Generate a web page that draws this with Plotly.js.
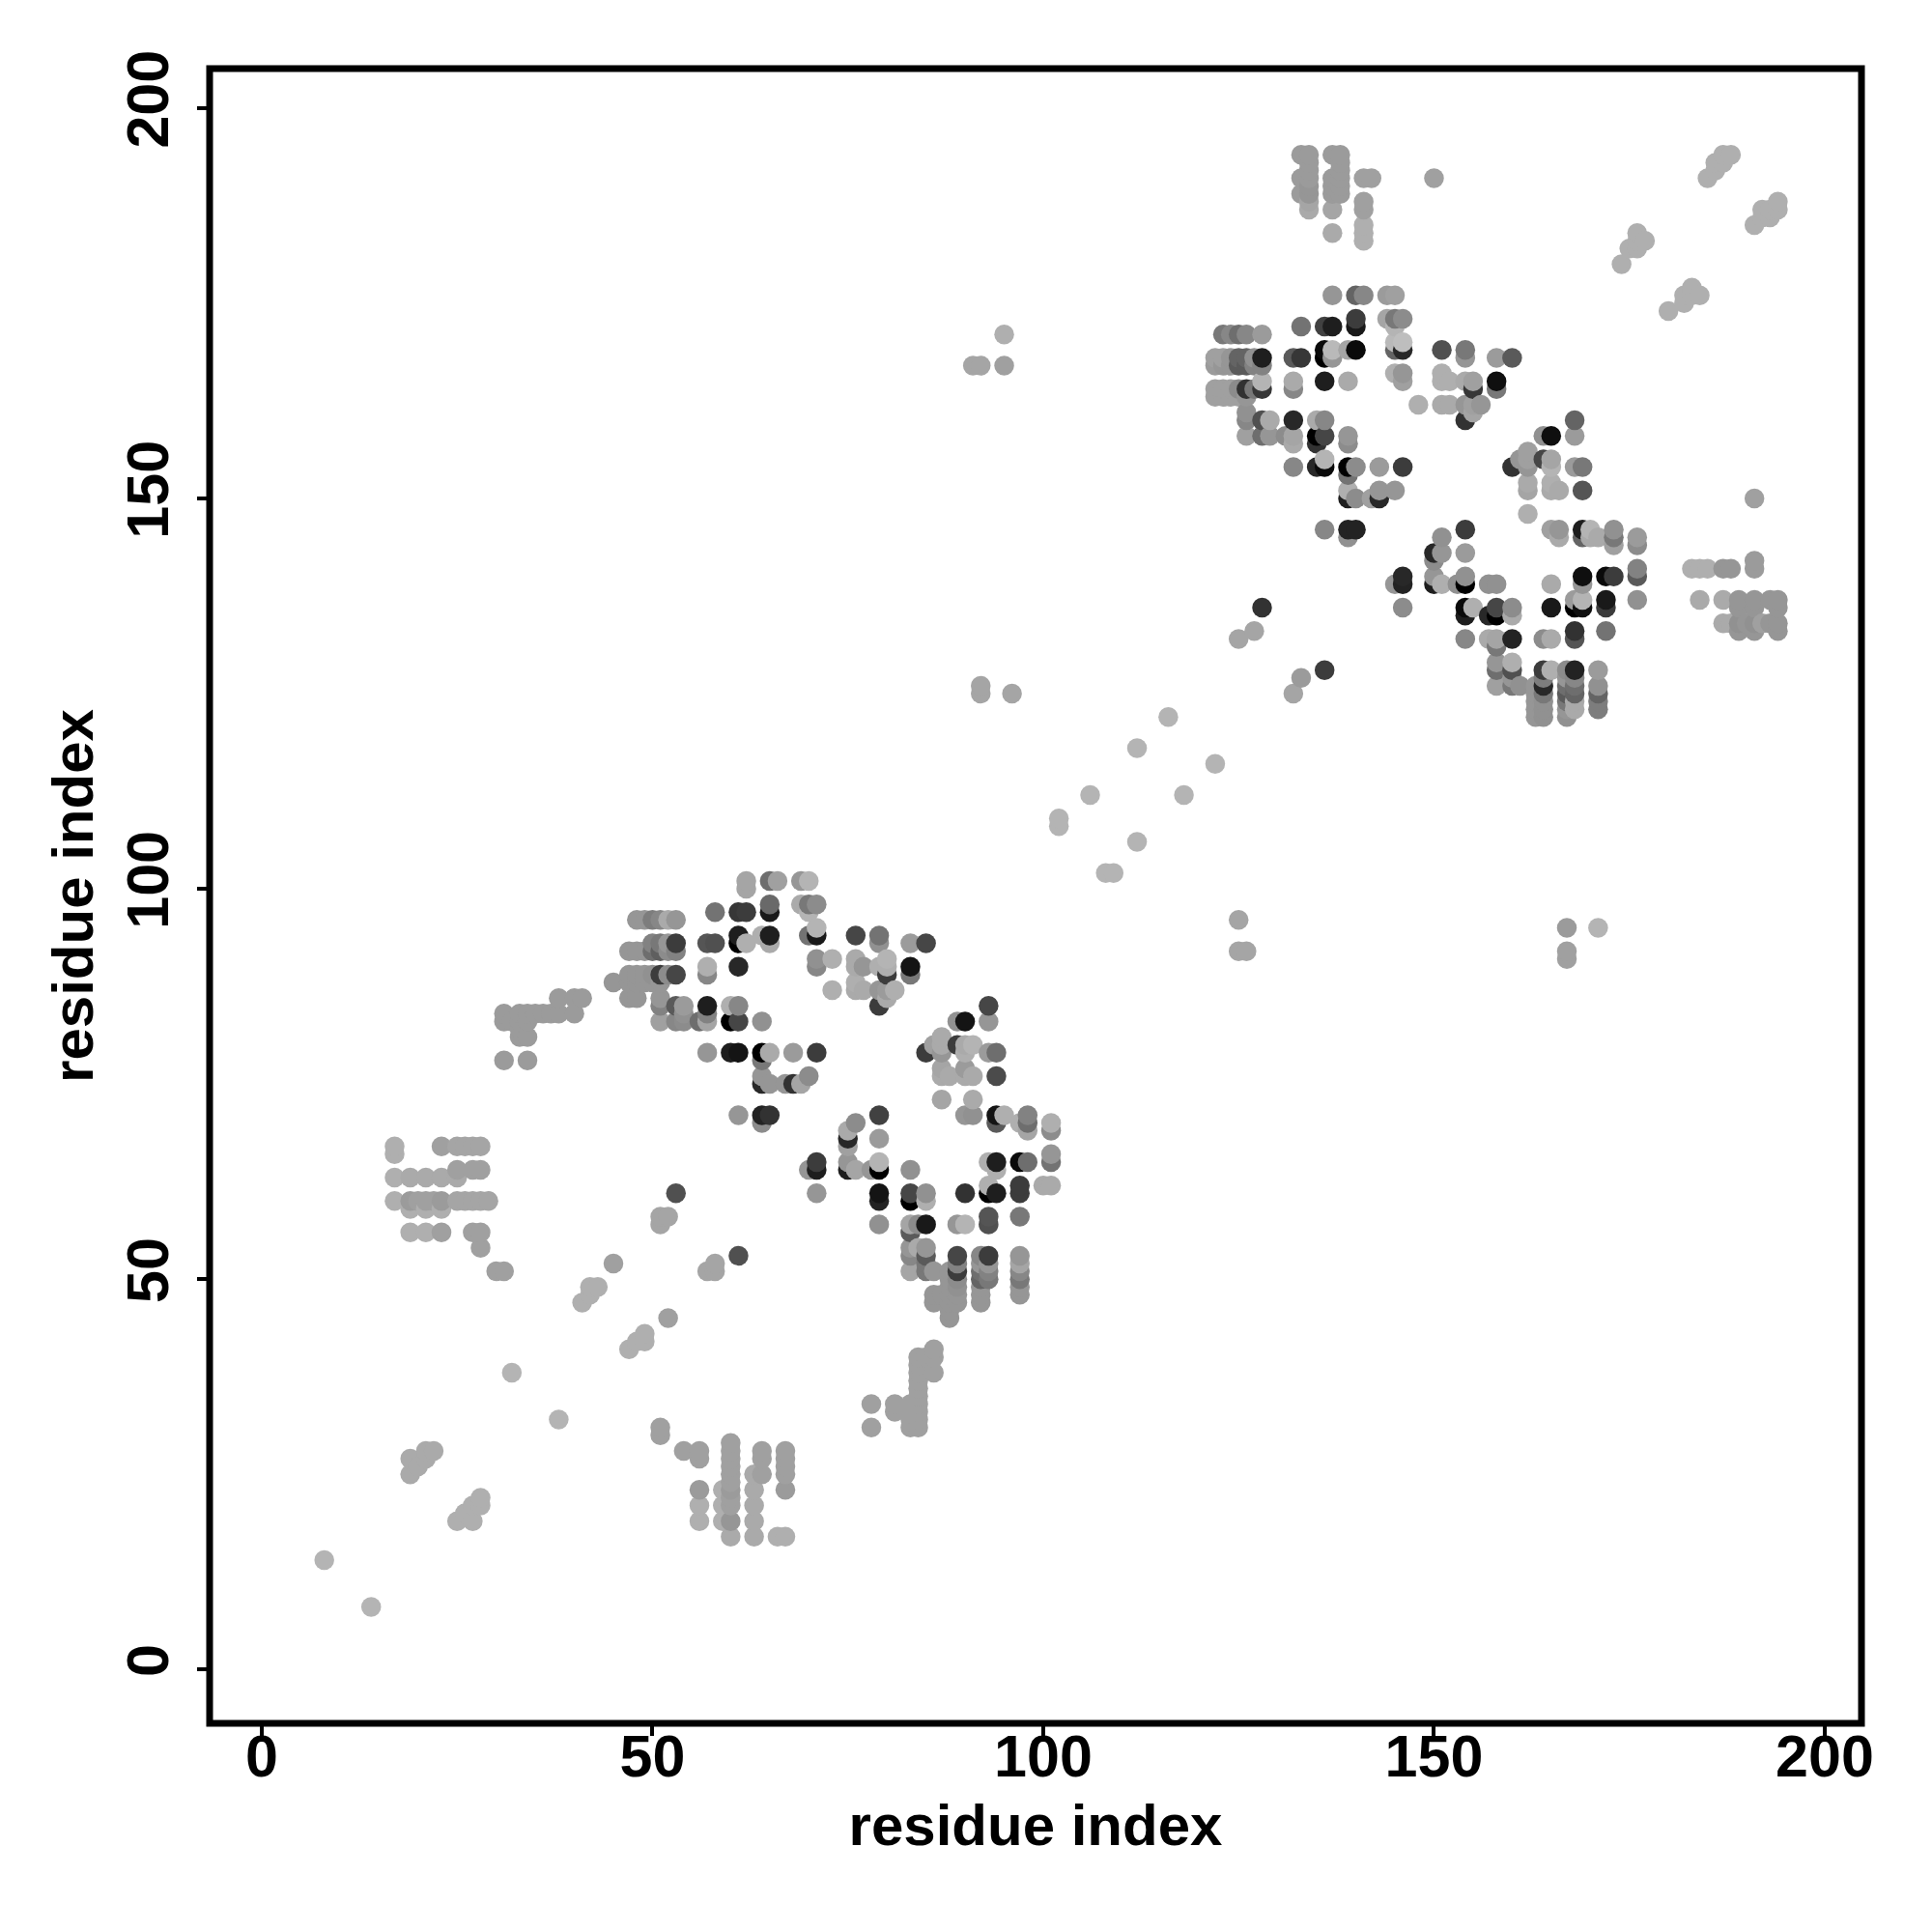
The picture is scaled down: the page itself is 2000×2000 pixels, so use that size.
<!DOCTYPE html>
<html><head><meta charset="utf-8">
<script src="https://cdn.plot.ly/plotly-3.0.1.min.js"></script>
<style>html,body{margin:0;padding:0;background:#fff}</style></head>
<body><div id="chart" style="width:2000px;height:2000px"></div>
<script>
// Each list holds [residue i, residue j, grey level]
const diagonalSparse = [[8,14,180],[14,8,180],[32,38,180],[38,32,180],[102,108,180],[102,109,180],[106,112,180],[108,102,180],[109,102,180],[112,106,180],[112,118,180],[116,122,180],[118,112,180],[122,116,180]];
const tailA = [[19,25,170],[20,26,170],[19,27,170],[21,27,170],[21,28,170],[22,28,170],[25,19,175],[27,19,175],[26,20,175],[27,21,175],[28,21,175],[28,22,175]];
const strandA = [[47,41,175],[48,42,175],[49,42,175],[49,43,175],[52,45,160],[41,47,175],[42,48,175],[42,49,175],[43,49,175],[45,52,160],[51,57,165],[51,58,165],[52,58,165],[53,61,80],[57,51,165],[58,51,165],[58,52,165],[61,53,80]];
const blockB = [[51,30,160],[51,31,160],[54,28,160],[56,27,160],[56,28,160],[56,19,175],[56,21,175],[56,23,155],[59,19,175],[59,21,175],[59,23,175],[60,17,170],[60,19,150],[60,21,160],[60,22,160],[60,23,155],[60,24,160],[60,25,160],[60,26,160],[60,27,160],[60,28,160],[60,29,160],[63,17,170],[63,19,170],[63,21,170],[63,23,170],[63,25,170],[64,25,160],[64,27,160],[64,28,160],[66,17,175],[67,17,175],[67,23,155],[67,25,160],[67,26,160],[67,27,160],[67,28,160]];
const blockC = [[78,31,160],[78,34,160],[81,33,160],[81,34,160],[83,31,160],[83,32,160],[83,33,160],[83,34,160],[84,31,160],[84,32,160],[84,33,160],[84,34,160],[84,35,160],[84,36,160],[84,37,160],[84,38,160],[84,39,160],[84,40,160],[85,40,160],[86,38,160],[86,40,160],[86,41,160]];
const blockD = [[17,60,175],[17,63,175],[17,66,175],[17,67,175],[19,59,175],[19,60,155],[19,63,170],[19,56,175],[20,60,160],[21,56,175],[21,59,175],[21,60,160],[21,63,170],[22,60,160],[23,56,160],[23,59,175],[23,60,155],[23,63,170],[23,67,160],[25,60,165],[25,63,170],[25,64,160],[25,67,165],[26,60,165],[26,67,165],[27,56,160],[27,60,165],[27,64,160],[27,67,165],[28,54,160],[28,56,160],[28,60,165],[28,64,160],[28,67,165],[29,60,165],[30,51,160],[31,51,160]];
const blockE = [[31,78,155],[34,78,155],[31,83,155],[31,84,155],[32,83,155],[33,81,155],[33,82,155],[33,83,155],[33,84,155],[34,81,155],[34,83,155],[34,84,155],[35,84,155],[36,84,155],[37,84,155],[38,84,155],[38,86,155],[40,84,155],[40,86,155],[41,86,155]];
const lowerUpper = [[45,88,150],[47,86,150],[47,88,150],[47,89,150],[47,92,150],[48,86,150],[48,88,150],[48,89,150],[48,92,150],[48,96,150],[49,88,150],[49,89,150],[49,92,150],[49,96,150],[50,88,150],[50,89,145],[50,92,110],[50,93,130],[50,96,125],[51,83,160],[51,85,130],[51,86,150],[51,88,150],[51,89,60],[51,92,95],[51,93,120],[51,96,135],[52,89,140],[52,92,140],[52,93,150],[52,96,170],[53,83,135],[53,85,90],[53,89,70],[53,92,130],[53,93,60],[53,96,150],[54,83,140],[54,84,145],[54,85,155],[56,83,110],[57,79,150],[57,83,165],[57,84,130],[57,85,30],[57,89,135],[57,90,175],[57,93,85],[58,93,80],[58,97,115],[60,79,30],[60,83,0],[60,85,175],[61,71,150],[61,79,20],[61,83,70],[61,85,135],[61,90,40],[61,93,0],[61,94,30],[61,97,55],[62,93,175],[62,97,60],[62,100,165],[62,101,165],[64,70,140],[64,71,35],[64,75,40],[64,76,150],[64,78,120],[64,79,0],[64,83,145],[64,94,175],[65,71,50],[65,75,150],[65,79,170],[65,93,170],[65,94,30],[65,97,25],[65,98,105],[65,101,110],[66,101,160],[67,75,150],[68,75,50],[68,79,155],[69,75,165],[69,98,170],[69,101,150],[70,64,150],[70,76,140],[70,94,115],[70,97,180],[70,98,120],[70,101,180]];
const lowerRight = [[71,61,150],[71,64,30],[71,65,60],[71,79,60],[71,90,135],[71,91,145],[71,94,25],[71,95,180],[71,98,140],[73,87,175],[73,91,175],[75,64,30],[75,65,150],[75,67,160],[75,68,40],[75,69,170],[76,64,165],[76,70,140],[76,87,170],[76,88,175],[76,90,170],[76,91,170],[76,94,70],[77,87,170],[77,90,150],[78,64,150],[79,57,145],[79,60,35],[79,61,20],[79,64,0],[79,65,180],[79,68,155],[79,71,65],[79,85,60],[79,87,150],[79,90,175],[79,93,145],[79,94,115],[80,86,170],[80,87,155],[80,89,60],[80,90,175],[80,91,180],[81,87,175],[83,51,165],[83,53,135],[83,54,150],[83,56,90],[83,57,165],[83,60,0],[83,61,70],[83,64,145],[83,89,120],[83,90,20],[83,93,155],[84,54,170],[84,57,140],[85,51,120],[85,52,120],[85,53,90],[85,54,150],[85,57,25],[85,60,175],[85,61,145],[85,79,60],[85,93,70],[86,47,150],[86,48,150],[86,51,150],[86,80,160],[87,48,150],[87,73,165],[87,76,170],[87,77,165],[87,79,150],[87,80,170],[87,81,170],[88,45,150],[88,46,150],[88,47,150],[88,48,150],[88,49,150],[88,50,150],[88,51,150],[88,76,170],[89,47,150],[89,48,150],[89,49,145],[89,50,140],[89,51,60],[89,52,130],[89,53,70],[89,57,150],[89,80,60],[89,83,145],[90,57,180],[90,61,50],[90,71,150],[90,76,170],[90,77,155],[90,79,175],[90,80,170],[90,83,20],[91,71,145],[91,73,170],[91,76,170],[91,80,180],[92,47,150],[92,48,150],[92,49,150],[92,50,100],[92,51,110],[92,52,150],[92,53,135],[93,50,120],[93,51,130],[93,52,150],[93,53,60],[93,57,80],[93,58,85],[93,61,0],[93,62,175],[93,65,175],[93,79,155],[93,83,150],[93,85,70],[94,61,30],[94,64,175],[94,65,30],[94,70,90],[94,71,20],[94,76,75],[94,79,110],[95,71,175],[97,48,150],[97,49,150],[97,50,120],[97,51,135],[97,52,165],[97,53,150],[97,58,120],[97,61,60],[97,62,60],[97,65,10],[97,70,175],[98,65,110],[98,69,165],[98,70,110],[98,71,130],[100,62,170],[101,62,170],[101,65,115],[101,66,150],[101,69,140],[101,70,175]];
const offDiagonal = [[92,125,165],[92,126,165],[96,125,165],[91,167,165],[92,167,165],[95,167,160],[95,171,175],[125,92,165],[126,92,165],[125,96,165],[125,132,165],[127,133,165],[128,136,50],[132,125,165],[133,127,155],[136,128,60],[150,191,160],[167,91,160],[167,92,160],[167,95,155],[171,95,180]];
const upperLeft = [[122,163,160],[122,164,160],[122,167,155],[122,168,160],[123,163,160],[123,164,160],[123,167,150],[123,168,160],[123,171,120],[124,163,160],[124,164,160],[124,167,150],[124,168,150],[124,171,135],[125,163,160],[125,164,140],[125,167,90],[125,168,100],[125,171,110],[126,158,160],[126,160,135],[126,161,145],[126,163,150],[126,164,50],[126,167,90],[126,168,100],[126,171,135],[127,164,120],[127,167,130],[127,168,145],[128,158,110],[128,160,80],[128,164,55],[128,165,180],[128,167,130],[128,168,30],[128,171,155],[129,158,150],[129,160,170],[131,158,140],[132,154,135],[132,157,170],[132,158,165],[132,160,40],[132,164,135],[132,165,170],[132,168,90],[133,168,55],[133,172,115],[135,157,50],[135,158,0],[135,154,40],[135,160,170],[136,146,135],[136,154,10],[136,155,180],[136,158,70],[136,160,135],[136,165,30],[136,168,0],[136,169,10],[136,172,65],[137,168,150],[137,169,185],[137,172,30],[137,176,150],[139,145,145],[139,146,35],[139,150,30],[139,151,175],[139,153,115],[139,154,0],[139,157,140],[139,158,150],[139,165,170],[139,169,165],[140,146,35],[140,150,140],[140,154,140],[140,169,10],[140,172,25],[140,173,60],[140,176,100],[141,176,135],[142,150,160],[143,150,40],[143,151,150],[143,154,155],[144,173,165],[144,176,155],[145,139,150],[145,151,150],[145,166,175],[145,169,100],[145,170,185],[145,172,180],[145,173,120],[145,176,160],[146,136,140],[146,139,35],[146,140,40],[146,154,60],[146,165,160],[146,166,150],[146,169,40],[146,170,190],[146,173,140]];
const upperRight = [[148,162,175],[150,139,30],[150,140,150],[150,142,140],[150,143,40],[151,139,175],[151,143,150],[151,145,145],[151,162,170],[151,165,175],[151,166,175],[151,169,80],[152,162,170],[152,165,175],[153,139,145],[154,132,135],[154,135,30],[154,136,10],[154,139,0],[154,140,145],[154,143,155],[154,146,60],[154,160,50],[154,162,150],[154,165,170],[154,168,150],[154,169,120],[155,136,175],[155,161,165],[155,162,160],[155,164,55],[155,165,160],[156,162,150],[157,132,170],[157,135,40],[157,139,145],[158,126,160],[158,128,110],[158,129,150],[158,131,120],[158,132,165],[158,135,0],[158,136,70],[158,139,145],[158,164,120],[158,165,15],[158,168,155],[160,126,120],[160,127,150],[160,128,80],[160,129,175],[160,132,35],[160,135,170],[160,136,140],[160,154,50],[160,168,90],[161,126,145],[161,155,150],[162,148,175],[162,151,165],[162,152,170],[162,154,150],[162,155,160],[162,156,160],[163,122,150],[163,123,150],[163,124,150],[163,125,150],[163,126,150],[164,122,145],[164,123,145],[164,124,145],[164,125,120],[164,126,40],[164,127,125],[164,128,60],[164,132,140],[164,155,70],[164,158,145],[165,128,175],[165,132,170],[165,136,25],[165,139,170],[165,146,160],[165,151,170],[165,152,175],[165,154,180],[165,155,165],[165,158,15],[166,145,170],[166,146,150],[166,151,170],[167,122,145],[167,123,150],[167,124,120],[167,125,90],[167,126,110],[167,127,150],[167,128,140],[168,123,170],[168,124,170],[168,125,100],[168,126,110],[168,127,135],[168,128,35],[168,132,85],[168,133,50],[168,136,0],[168,137,155],[168,154,155],[168,158,155],[168,160,100],[169,136,15],[169,137,180],[169,139,150],[169,140,15],[169,145,100],[169,146,30],[169,151,85],[169,154,120],[170,145,170],[170,146,180],[171,123,125],[171,124,125],[171,125,100],[171,126,145],[171,128,155],[171,145,170],[172,133,115],[172,136,60],[172,137,25],[172,140,10],[173,140,60],[173,144,160],[173,145,120],[173,146,145],[176,137,145],[176,140,90],[176,141,130],[176,144,140],[176,145,155]];
const topBlock = [[133,189,155],[133,191,155],[133,194,155],[134,187,170],[134,188,165],[134,189,150],[134,190,150],[134,191,155],[134,192,155],[134,193,155],[134,194,155],[137,184,170],[137,187,165],[137,189,155],[137,190,155],[137,191,155],[137,194,155],[138,189,155],[138,190,155],[138,191,155],[138,192,155],[138,193,155],[138,194,155],[141,183,175],[141,184,175],[141,185,175],[141,187,160],[141,188,160],[141,191,160],[142,191,160]];
const farStrands = [[174,180,175],[175,182,175],[176,182,175],[176,183,175],[176,184,175],[177,183,175],[180,174,175],[182,175,175],[182,176,175],[183,176,175],[183,177,175],[184,176,175],[185,191,175],[186,192,175],[186,193,175],[187,193,175],[187,194,175],[188,194,175],[191,185,175],[192,186,175],[192,187,175],[193,186,175],[193,187,175],[194,187,175],[194,188,175]];
const rightBlock = [[183,141,175],[184,137,170],[184,141,175],[185,141,175],[187,134,170],[187,137,170],[187,141,150],[188,134,170],[188,141,150],[189,133,150],[189,134,145],[189,136,150],[189,137,150],[190,134,150],[191,133,150],[191,134,145],[191,136,150],[191,137,150],[191,141,155],[191,142,155],[191,150,160],[192,134,160],[193,134,150],[193,137,150],[194,133,150],[194,134,150],[194,136,150],[194,137,150]];

const tickValues = [0, 50, 100, 150, 200];
const axisLabel = "residue index";

const contacts = [diagonalSparse, tailA, strandA, blockB, blockC, blockD, blockE, lowerUpper, lowerRight, offDiagonal, upperLeft, upperRight, topBlock, farStrands, rightBlock].flat();
contacts.sort((a, b) => a[0] - b[0] || a[1] - b[1]);

const fontFamily = '"Liberation Sans", Arial, sans-serif';
Plotly.newPlot('chart', [{
  type: 'scatter', mode: 'markers',
  x: contacts.map(p => p[0]), y: contacts.map(p => p[1]),
  marker: {size: 20.5, line: {width: 0}, color: contacts.map(p => `rgb(${p[2]},${p[2]},${p[2]})`)},
  cliponaxis: true, hoverinfo: 'skip'
}], {
  width: 2000, height: 2000, showlegend: false,
  paper_bgcolor: '#fff', plot_bgcolor: '#fff',
  margin: {l: 217, r: 73, t: 71, b: 216, pad: 0},
  font: {family: fontFamily, color: '#000'},
  xaxis: {range: [-6.67, 204.7], tickvals: tickValues, ticktext: tickValues.map(String), ticks: 'outside', ticklen: 12, tickwidth: 4, tickcolor: '#000',
    showgrid: false, zeroline: false, showline: false, tickangle: 0, ticklabelstandoff: -31,
    tickfont: {size: 61, family: fontFamily, weight: 700},
    title: {text: axisLabel, standoff: 16, font: {size: 60, family: fontFamily, weight: 700}}},
  yaxis: {range: [-6.9, 205.05], tickvals: tickValues, ticktext: tickValues.map(String), ticks: 'outside', ticklen: 12, tickwidth: 4, tickcolor: '#000',
    showgrid: false, zeroline: false, showline: false, tickangle: -90, ticklabelstandoff: 6,
    tickfont: {size: 61, family: fontFamily, weight: 700},
    title: {text: axisLabel, standoff: 2, font: {size: 60, family: fontFamily, weight: 700}}},
  shapes: [{type: 'rect', xref: 'paper', yref: 'paper', x0: 0, x1: 1, y0: 0, y1: 1, line: {color: '#000', width: 7}, fillcolor: 'rgba(0,0,0,0)'}]
}, {displayModeBar: false, staticPlot: true});
</script></body></html>
